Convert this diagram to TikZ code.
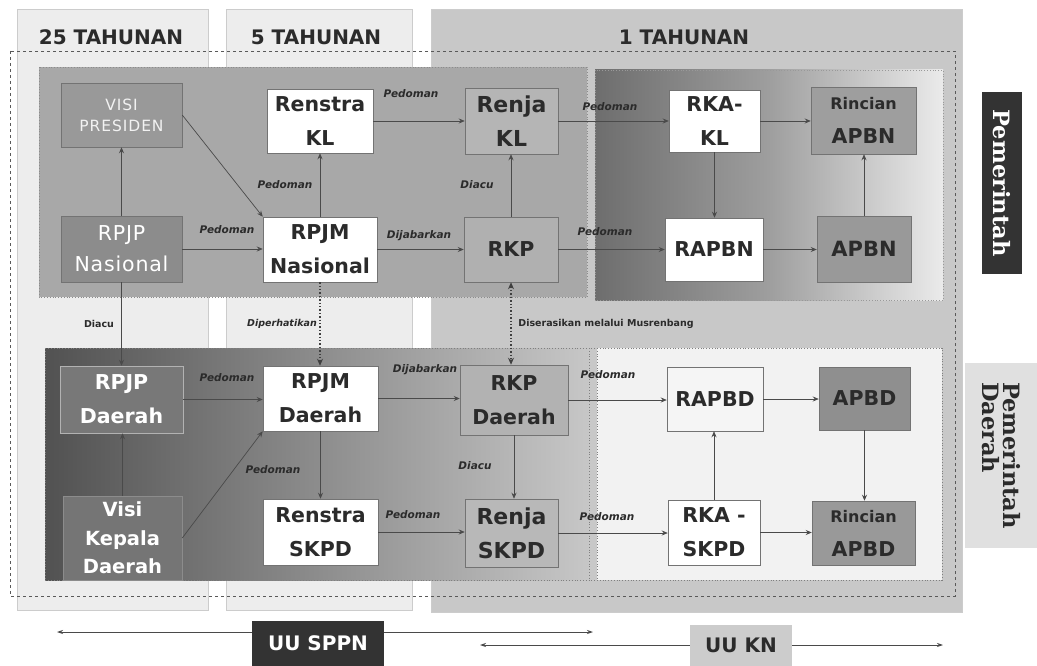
\documentclass[tikz,border=0pt]{standalone}
\usepackage{fontspec}
\setmainfont{DejaVu Sans}
\newfontfamily\serf{DejaVu Serif}
\usetikzlibrary{arrows.meta}
\definecolor{txt}{HTML}{2B2B2B}
\definecolor{edgec}{HTML}{4A4A4A}
\definecolor{colA}{HTML}{EDEDED}
\definecolor{colB}{HTML}{C8C8C8}
\definecolor{panelT}{HTML}{A8A8A8}
\begin{document}
\begin{tikzpicture}[x=1pt,y=-1pt,
  box/.style={draw=black!55, fill=#1, line width=0.5pt, inner sep=0pt, align=center, text=txt,
    font=\bfseries\fontsize{20.5}{34}\selectfont},
  ed/.style={draw=edgec, line width=0.7pt, -{Stealth[length=6pt,width=5pt]}},
  dot/.style={draw=black!75, line width=1.4pt, dotted, -{Stealth[length=7pt,width=6pt]}},
  lab/.style={font=\bfseries\itshape\fontsize{10.5}{12}\selectfont, text=txt},
  glab/.style={font=\bfseries\fontsize{9.5}{12}\selectfont, text=txt},
  hdr/.style={font=\bfseries\fontsize{20}{24}\selectfont, text=txt},
  colbox/.style={draw=black!20, line width=0.5pt}
]
\useasboundingbox (0,0) rectangle (1037,666);
\fill[white] (0,0) rectangle (1037,666);
% columns
\filldraw[colbox, fill=colA] (17,9) rectangle (208,610);
\filldraw[colbox, fill=colA] (226,9) rectangle (412,610);
\filldraw[colbox, fill=colB] (431,9) rectangle (962,612);
\node[hdr] (h25) at (111,37) {25 TAHUNAN};
\node[hdr] (h5) at (316,37) {5 TAHUNAN};
\node[hdr] (h1) at (684,37) {1 TAHUNAN};
% outer dashed
\draw[dashed, draw=black!65, line width=0.6pt] (10,51) rectangle (955,596);
% top panel
\filldraw[fill=panelT, draw=black!45, dotted, line width=0.8pt] (39,67) rectangle (587,297);
\shade[left color=black!57, right color=black!8, middle color=black!38] (595,70) rectangle (943,300);
\draw[draw=black!40, dotted, line width=0.8pt] (595,70) rectangle (943,300);
% bottom panel
\shade[left color=black!68, right color=black!22] (45,348) rectangle (589,580);
\fill[black!5] (597,348) rectangle (942,580);
\draw[draw=black!50, dotted, line width=0.8pt] (45,348) rectangle (942,580);
\draw[draw=black!50, dotted, line width=0.8pt] (589,348) -- (589,580);
\draw[draw=black!50, dotted, line width=0.8pt] (597,348) -- (597,580);

% top nodes
\node[box=black!40, text=black!5, font=\addfontfeature{LetterSpace=6}\fontsize{15.5}{21}\selectfont, minimum width=121, minimum height=64] (visiP) at (121.5,115) {VISI\\PRESIDEN};
\node[box=black!45, text=white, font=\addfontfeature{LetterSpace=4}\fontsize{20.5}{31}\selectfont, minimum width=121, minimum height=66] (rpjpN) at (121.5,249) {RPJP\\Nasional};
\node[box=white, minimum width=106, minimum height=64] (renstraKL) at (320,121) {Renstra\\KL};
\node[box=white, minimum width=114, minimum height=65] (rpjmN) at (320,249.5) {RPJM\\Nasional};
\node[box=black!29, font=\bfseries\fontsize{22}{34}\selectfont, minimum width=93, minimum height=66] (renjaKL) at (511.5,121) {Renja\\KL};
\node[box=black!31, minimum width=94, minimum height=65] (rkp) at (511,249.5) {RKP};
\node[box=white, minimum width=91, minimum height=62] (rkaKL) at (714.5,121) {RKA-\\KL};
\node[box=white, minimum width=98, minimum height=63] (rapbn) at (714,249.5) {RAPBN};
\node[box=black!38, minimum width=105, minimum height=67] (rincAPBN) at (863.5,120.5) {{\fontsize{16}{33}\selectfont Rincian}\\APBN};
\node[box=black!40, font=\bfseries\fontsize{21}{32}\selectfont, minimum width=94, minimum height=66] (apbn) at (864,249) {APBN};

% bottom nodes
\node[box=black!53, draw=black!30, text=white, minimum width=123, minimum height=67] (rpjpD) at (121.5,399.5) {RPJP\\Daerah};
\node[box=white, minimum width=115, minimum height=65] (rpjmD) at (320.5,398.5) {RPJM\\Daerah};
\node[box=black!30, minimum width=108, minimum height=70] (rkpD) at (514,400) {RKP\\Daerah};
\node[box=black!4, minimum width=96, minimum height=64] (rapbd) at (715,399) {RAPBD};
\node[box=black!44, minimum width=91, minimum height=63] (apbd) at (864.5,398.5) {APBD};
\node[box=black!54, draw=black!45, text=white, font=\bfseries\fontsize{19.5}{28.5}\selectfont, minimum width=119, minimum height=84] (visiKD) at (122.5,538) {Visi\\Kepala\\Daerah};
\node[box=white, minimum width=115, minimum height=66] (renstraSKPD) at (320.5,532) {Renstra\\SKPD};
\node[box=black!28, font=\bfseries\fontsize{22}{34}\selectfont, minimum width=93, minimum height=68] (renjaSKPD) at (511.5,533) {Renja\\SKPD};
\node[box=white, minimum width=92, minimum height=65] (rkaSKPD) at (714,532.5) {RKA -\\SKPD};
\node[box=black!40, minimum width=103, minimum height=64] (rincAPBD) at (863.5,533) {{\fontsize{16}{33}\selectfont Rincian}\\APBD};

% top edges
\draw[ed] (rpjpN.north) -- (visiP.south);
\draw[ed] (visiP.east) -- (rpjmN.north west) node[lab] at (285,185) {Pedoman};
\draw[ed] (rpjpN.east) -- (rpjpN.east -| rpjmN.west) node[lab] at (227,230) {Pedoman};
\draw[ed] (rpjmN.north) -- (rpjmN.north |- renstraKL.south);
\draw[ed] (renstraKL.east) -- (renstraKL.east -| renjaKL.west) node[lab] at (411,94) {Pedoman};
\draw[ed] (rpjmN.east) -- (rpjmN.east -| rkp.west) node[lab] at (419,236) {Dijabarkan};
\draw[ed] (rkp.north) -- (rkp.north |- renjaKL.south) node[lab] at (477,185) {Diacu};
\draw[ed] (renjaKL.east) -- (renjaKL.east -| rkaKL.west) node[lab] at (610,107) {Pedoman};
\draw[ed] (rkp.east) -- (rkp.east -| rapbn.west) node[lab] at (605,232) {Pedoman};
\draw[ed] (rkaKL.east) -- (rkaKL.east -| rincAPBN.west);
\draw[ed] (rkaKL.south) -- (rkaKL.south |- rapbn.north);
\draw[ed] (rapbn.east) -- (rapbn.east -| apbn.west);
\draw[ed] (apbn.north) -- (apbn.north |- rincAPBN.south);

% between panels
\draw[ed] (rpjpN.south) -- (rpjpD.north) node[glab] at (99,324) {Diacu};
\draw[dot] (rpjmN.south) -- (rpjmN.south |- rpjmD.north) node[glab, font=\bfseries\itshape\fontsize{9.5}{12}\selectfont] at (282,324) {Diperhatikan};
\draw[dot, {Stealth[length=7pt,width=6pt]}-{Stealth[length=7pt,width=6pt]}] (rkp.south) -- (rkp.south |- rkpD.north) node[glab] at (606,324) {Diserasikan melalui Musrenbang};

% bottom edges
\draw[ed] (visiKD.north) -- (visiKD.north |- rpjpD.south);
\draw[ed] (visiKD.east) -- (rpjmD.south west);
\draw[ed] (rpjpD.east) -- (rpjpD.east -| rpjmD.west) node[lab] at (227,378) {Pedoman};
\draw[ed] (rpjmD.south) -- (rpjmD.south |- renstraSKPD.north) node[lab] at (273,470) {Pedoman};
\draw[ed] (rpjmD.east) -- (rpjmD.east -| rkpD.west) node[lab] at (425,370) {Dijabarkan};
\draw[ed] (rkpD.south) -- (rkpD.south |- renjaSKPD.north) node[lab] at (475,466) {Diacu};
\draw[ed] (renstraSKPD.east) -- (renstraSKPD.east -| renjaSKPD.west) node[lab] at (413,515) {Pedoman};
\draw[ed] (rkpD.east) -- (rkpD.east -| rapbd.west) node[lab] at (608,375) {Pedoman};
\draw[ed] (renjaSKPD.east) -- (renjaSKPD.east -| rkaSKPD.west) node[lab] at (607,517) {Pedoman};
\draw[ed] (rkaSKPD.north) -- (rkaSKPD.north |- rapbd.south);
\draw[ed] (rapbd.east) -- (rapbd.east -| apbd.west);
\draw[ed] (apbd.south) -- (apbd.south |- rincAPBD.north);
\draw[ed] (rkaSKPD.east) -- (rkaSKPD.east -| rincAPBD.west);

% side labels
\node[fill=black!80, text=white, font=\serf\bfseries\fontsize{22.5}{26}\selectfont, rotate=-90, minimum width=181, minimum height=40, inner sep=0pt] (pem) at (1002,183) {Pemerintah};
\node[fill=black!12, text=txt, font=\serf\bfseries\fontsize{22.5}{21}\selectfont, rotate=-90, align=left, minimum width=185, minimum height=72, inner sep=0pt] (pemD) at (1001,455.5) {Pemerintah\\Daerah};

% bottom laws
\coordinate (s1) at (57,632);
\coordinate (s2) at (593,632);
\coordinate (k1) at (480,645);
\coordinate (k2) at (943,645);
\draw[draw=edgec, line width=0.8pt, {Stealth[length=6pt,width=4pt]}-{Stealth[length=6pt,width=4pt]}] (s1) -- (s2);
\draw[draw=edgec, line width=0.8pt, {Stealth[length=6pt,width=4pt]}-{Stealth[length=6pt,width=4pt]}] (k1) -- (k2);
\node[fill=black!80, text=white, font=\bfseries\fontsize{20}{24}\selectfont, minimum width=132, minimum height=45, inner sep=0pt] (uusppn) at (318,643.5) {UU SPPN};
\node[fill=black!20, text=txt, font=\bfseries\fontsize{20}{24}\selectfont, minimum width=102, minimum height=41, inner sep=0pt] (uukn) at (741,645.5) {UU KN};
\end{tikzpicture}
\end{document}
